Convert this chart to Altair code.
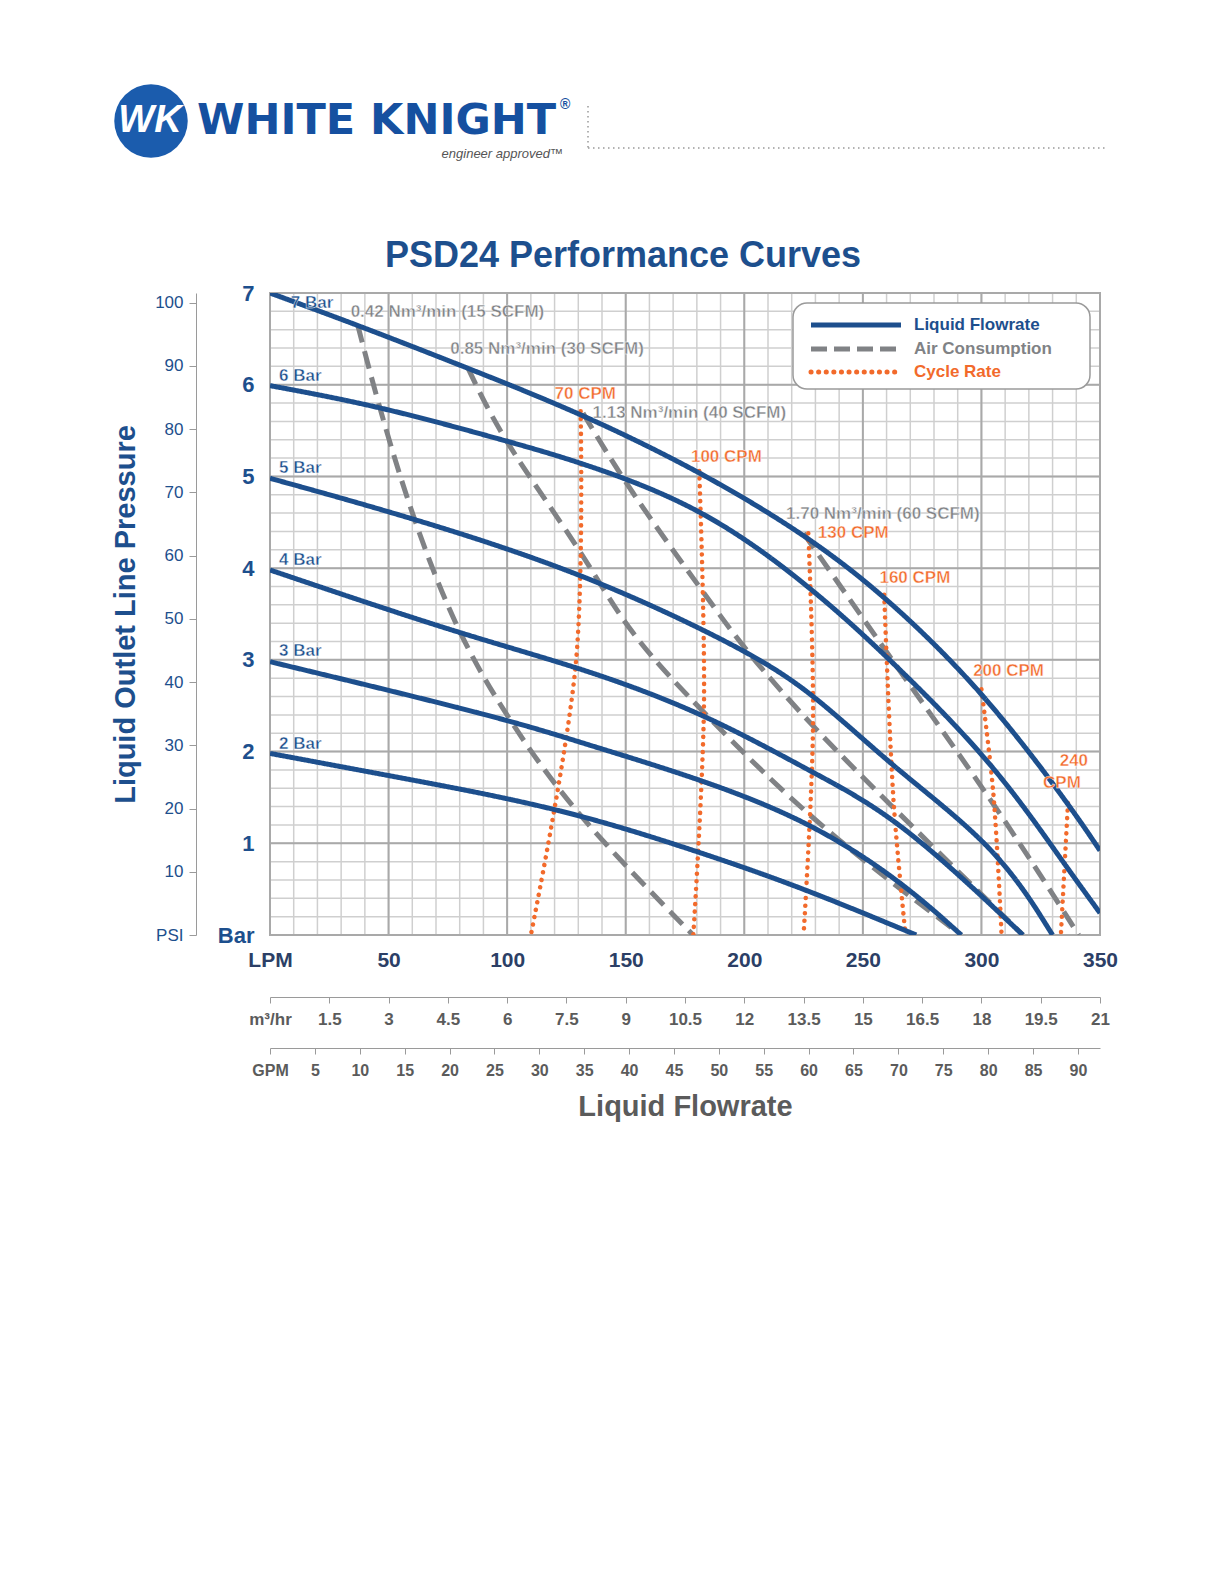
import altair as alt
import pandas as pd

BLUE = "#1d4f8d"
GRAY = "#808285"
ORANGE = "#f26a2b"

# liquid flowrate curves: (LPM, Bar)
bar7 = [(0, 7.0), (37, 6.65), (83.5, 6.18), (131, 5.69), (181, 5.06), (225, 4.38), (259, 3.71), (300, 2.68), (336.5, 1.44), (350, 0.92)]
bar6 = [(0, 5.99), (45.5, 5.77), (98, 5.40), (132, 5.15), (183, 4.66), (229, 3.78), (263, 2.97), (305, 1.88), (334.5, 0.79), (350, 0.24)]
bar5 = [(0, 4.98), (60, 4.55), (132, 3.95), (199.5, 3.13), (229, 2.64), (263, 1.82), (307, 0.95), (330, 0.0)]
bar4 = [(0, 3.98), (79, 3.29), (132, 2.91), (183, 2.42), (229, 1.77), (265, 1.28), (317.5, 0.0)]
bar3 = [(0, 2.98), (98, 2.37), (132, 2.09), (183, 1.69), (229, 1.22), (267, 0.57), (291.5, 0.0)]
bar2 = [(0, 1.98), (56, 1.71), (123.5, 1.38), (183, 0.89), (225, 0.51), (272.5, 0.0)]

# air consumption curves
air042 = [(37, 6.65), (45.5, 5.80), (60, 4.55), (79, 3.29), (100, 2.37), (128, 1.33), (178.4, 0.0)]
air085 = [(83.5, 6.18), (98, 5.40), (132, 4.17), (151, 3.29), (183, 2.42), (229, 1.22), (291.5, 0.0)]
air113 = [(132, 5.69), (151, 4.87), (183, 3.73), (199.5, 3.13), (229, 2.26), (265, 1.33), (317.5, 0.0)]
air170 = [(225, 4.38), (263, 2.97), (307, 1.38), (341, 0.0)]

# cycle rate curves
cpm70 = [(131, 5.71), (129, 2.97), (110, 0.0)]
cpm100 = [(181, 5.06), (183, 2.5), (178.5, 0.0)]
cpm130 = [(227, 4.38), (229, 2.3), (225, 0.0)]
cpm160 = [(259, 3.71), (263, 1.44), (268, 0.0)]
cpm200 = [(300, 2.68), (305, 1.55), (308.5, 0.0)]
cpm240 = [(336.5, 1.44), (333.5, 0.0)]

bar_labels = ["7 Bar", "6 Bar", "5 Bar", "4 Bar", "3 Bar", "2 Bar"]
bar_label_x = [8.8, 3.8, 3.8, 3.8, 3.8, 3.8]
bar_label_y = [6.89, 6.10, 5.09, 4.09, 3.10, 2.08]

air_labels = ["0.42 Nm³/min (15 SCFM)", "0.85 Nm³/min (30 SCFM)", "1.13 Nm³/min (40 SCFM)", "1.70 Nm³/min (60 SCFM)"]
air_label_x = [34, 76, 136, 217.6]
air_label_y = [6.79, 6.39, 5.69, 4.59]

cpm_labels = ["70 CPM", "100 CPM", "130 CPM", "160 CPM", "200 CPM", "240", "CPM"]
cpm_label_x = [120, 177.5, 231, 257, 296.5, 333, 326]
cpm_label_y = [5.90, 5.21, 4.38, 3.89, 2.88, 1.90, 1.66]

minor_x = list(range(0, 351, 10))
major_x = list(range(0, 351, 50))
minor_y = [i / 5 for i in range(0, 36)]
major_y = list(range(0, 8))

lpm_ticks = list(range(0, 351, 50))
m3_ticks = [i * 1.5 for i in range(0, 15)]
gpm_ticks = list(range(0, 91, 5))
psi_ticks = list(range(0, 101, 10))


def frame(curves, kind):
    rows = []
    for name, pts in curves.items():
        for i, (x, y) in enumerate(pts):
            rows.append({"curve": name, "i": i, "lpm": x, "bar": y, "kind": kind})
    return pd.DataFrame(rows)


W, H = 830, 642
xs = alt.Scale(domain=[0, 350], nice=False, zero=False)
ys = alt.Scale(domain=[0, 7], nice=False, zero=False)

# main axes: LPM / Bar
axis_layer = alt.Chart(pd.DataFrame({"lpm": [0, 350], "bar": [0, 7]})).mark_point(opacity=0).encode(
    x=alt.X("lpm:Q", scale=xs, axis=alt.Axis(values=lpm_ticks, orient="bottom", title=None, grid=False,
                                              labelExpr="datum.value == 0 ? 'LPM' : format(datum.value, 'd')",
                                              labelFontSize=21, labelFontWeight="bold", labelColor="#2c3f66",
                                              labelPadding=14, tickSize=0, domain=False, labelFlush=False,
                                              labelFont="Liberation Sans")),
    y=alt.Y("bar:Q", scale=ys, axis=alt.Axis(values=major_y, orient="left", title=None, grid=False,
                                              labelExpr="datum.value == 0 ? 'Bar' : format(datum.value, 'd')",
                                              labelFontSize=22, labelFontWeight="bold", labelColor=BLUE,
                                              labelPadding=16, tickSize=0, domain=False, labelFlush=False,
                                              labelFont="Liberation Sans")),
)

grid_minor_v = alt.Chart(pd.DataFrame({"lpm": minor_x})).mark_rule(color="#cfcfcf", strokeWidth=1.5).encode(
    x=alt.X("lpm:Q", scale=xs))
grid_minor_h = alt.Chart(pd.DataFrame({"bar": minor_y})).mark_rule(color="#cfcfcf", strokeWidth=1.5).encode(
    y=alt.Y("bar:Q", scale=ys))
grid_major_v = alt.Chart(pd.DataFrame({"lpm": major_x})).mark_rule(color="#a9a9a9", strokeWidth=2).encode(
    x=alt.X("lpm:Q", scale=xs))
grid_major_h = alt.Chart(pd.DataFrame({"bar": major_y})).mark_rule(color="#a9a9a9", strokeWidth=2).encode(
    y=alt.Y("bar:Q", scale=ys))


def lines(df, color, width, dash, cap, interp):
    return alt.Chart(df).mark_line(color=color, strokeWidth=width, strokeDash=dash, clip=True,
                                   strokeCap=cap, interpolate=interp).encode(
        x=alt.X("lpm:Q", scale=xs),
        y=alt.Y("bar:Q", scale=ys),
        detail="curve:N",
        order="i:Q",
    )


blue = lines(frame({"7": bar7, "6": bar6, "5": bar5, "4": bar4, "3": bar3, "2": bar2}, "liquid"),
             BLUE, 5, [1, 0], "butt", "basis")
gray = lines(frame({"a": air042, "b": air085, "c": air113, "d": air170}, "air"),
             GRAY, 5, [18, 9], "butt", "basis")
orange = lines(frame({"70": cpm70, "100": cpm100, "130": cpm130, "160": cpm160, "200": cpm200, "240": cpm240}, "cpm"),
               ORANGE, 4.5, [0.1, 7.5], "round", "catmull-rom")


def labels(texts, xv, yv, color, align="left"):
    df = pd.DataFrame({"t": texts, "lpm": xv, "bar": yv})
    return alt.Chart(df).mark_text(color=color, fontSize=17, fontWeight="bold", align=align,
                                   font="Liberation Sans", stroke="white", strokeWidth=0.4).encode(
        x=alt.X("lpm:Q", scale=xs), y=alt.Y("bar:Q", scale=ys), text="t:N")


bar_txt = labels(bar_labels, bar_label_x, bar_label_y, BLUE)
air_txt = labels(air_labels, air_label_x, air_label_y, GRAY)
cpm_txt = labels(cpm_labels, cpm_label_x, cpm_label_y, ORANGE)

# legend box
legend_bg = alt.Chart(pd.DataFrame({"k": [0]})).mark_rect(
    fill="white", stroke="#9a9a9a", strokeWidth=1.5, cornerRadius=14).encode(
    x=alt.value(523), x2=alt.value(820), y=alt.value(10), y2=alt.value(96))
leg_names = ["Liquid Flowrate", "Air Consumption", "Cycle Rate"]
leg_colors = [BLUE, GRAY, ORANGE]
leg_dash = [[1, 0], [16, 7], [0.1, 7.5]]
leg_caps = ["butt", "butt", "round"]
leg_y = [32, 56, 79]
legend_parts = [legend_bg]
for name, col, dash, cap, yy in zip(leg_names, leg_colors, leg_dash, leg_caps, leg_y):
    legend_parts.append(alt.Chart(pd.DataFrame({"k": [0]})).mark_rule(
        color=col, strokeWidth=5, strokeDash=dash, strokeCap=cap).encode(
        x=alt.value(541), x2=alt.value(631), y=alt.value(yy)))
    legend_parts.append(alt.Chart(pd.DataFrame({"t": [name]})).mark_text(
        color=col, fontSize=17, fontWeight="bold", align="left", font="Liberation Sans").encode(
        x=alt.value(644), y=alt.value(yy), text="t:N"))

# title and logo
deco = [
    alt.Chart(pd.DataFrame({"t": ["PSD24 Performance Curves"]})).mark_text(
        color=BLUE, fontSize=36, fontWeight="bold", font="Liberation Sans").encode(
        x=alt.value(353), y=alt.value(-37), text="t:N"),
    alt.Chart(pd.DataFrame({"k": [0]})).mark_circle(color="#1b5cad", opacity=1, size=5400).encode(
        x=alt.value(-119), y=alt.value(-172)),
    alt.Chart(pd.DataFrame({"t": ["WK"]})).mark_text(
        color="white", fontSize=38, fontWeight="bold", fontStyle="italic", font="Liberation Sans").encode(
        x=alt.value(-120), y=alt.value(-172), text="t:N"),
    alt.Chart(pd.DataFrame({"t": ["WHITE KNIGHT"]})).mark_text(
        color="#1550a0", fontSize=43, fontWeight="bold", align="left", font="DejaVu Sans").encode(
        x=alt.value(-73), y=alt.value(-172), text="t:N"),
    alt.Chart(pd.DataFrame({"t": ["®"]})).mark_text(
        color="#1550a0", fontSize=14, fontWeight="bold", align="left").encode(
        x=alt.value(290), y=alt.value(-188), text="t:N"),
    alt.Chart(pd.DataFrame({"t": ["engineer approved™"]})).mark_text(
        color="#555555", fontSize=13, fontStyle="italic", align="right").encode(
        x=alt.value(293), y=alt.value(-139), text="t:N"),
    alt.Chart(pd.DataFrame({"k": [0]})).mark_rule(color="#999999", strokeDash=[1.5, 3.5], strokeWidth=1.5).encode(
        x=alt.value(318), x2=alt.value(835), y=alt.value(-145)),
    alt.Chart(pd.DataFrame({"k": [0]})).mark_rule(color="#999999", strokeDash=[1.5, 3.5], strokeWidth=1.5).encode(
        x=alt.value(318), y=alt.value(-187), y2=alt.value(-145)),
]

main = alt.layer(axis_layer, grid_minor_v, grid_minor_h, grid_major_v, grid_major_h, gray, orange, blue,
                 bar_txt, air_txt, cpm_txt, *legend_parts, *deco)

psi = alt.Chart(pd.DataFrame({"psi": [0, 101.5]})).mark_point(opacity=0).encode(
    y=alt.Y("psi:Q", scale=alt.Scale(domain=[0, 7 * 14.5038], nice=False, zero=False),
            axis=alt.Axis(values=psi_ticks, orient="left", offset=74, grid=False,
                          title="Liquid Outlet Line Pressure", titleFontSize=29, titleColor=BLUE,
                          titleFont="Liberation Sans", titleFontWeight="bold", titlePadding=14,
                          labelExpr="datum.value == 0 ? 'PSI' : datum.label", labelFlush=False,
                          labelFontSize=17, labelColor=BLUE, labelFont="Liberation Sans",
                          domainColor="#9a9a9a", tickColor="#9a9a9a", tickSize=7, labelPadding=6)))

m3 = alt.Chart(pd.DataFrame({"m3": [0, 21]})).mark_point(opacity=0).encode(
    x=alt.X("m3:Q", scale=alt.Scale(domain=[0, 21], nice=False, zero=False),
            axis=alt.Axis(values=m3_ticks, orient="bottom", offset=62, grid=False, title=None,
                          labelExpr="datum.value == 0 ? 'm³/hr' : format(datum.value, '.1~f')",
                          labelFontSize=17, labelFontWeight="bold", labelColor="#5b5b5b", labelFlush=False,
                          labelFont="Liberation Sans", domainColor="#9a9a9a", tickColor="#9a9a9a",
                          tickSize=6, labelPadding=8, labelOverlap=False)))

gpm = alt.Chart(pd.DataFrame({"gpm": [0, 92.46]})).mark_point(opacity=0).encode(
    x=alt.X("gpm:Q", scale=alt.Scale(domain=[0, 350 / 3.78541], nice=False, zero=False),
            axis=alt.Axis(values=gpm_ticks, orient="bottom", offset=113, grid=False,
                          title="Liquid Flowrate", titleFontSize=29, titleColor="#5b5b5b",
                          titleFont="Liberation Sans", titleFontWeight="bold", titlePadding=14,
                          labelExpr="datum.value == 0 ? 'GPM' : datum.label", labelFlush=False,
                          labelFontSize=16, labelFontWeight="bold", labelColor="#5b5b5b",
                          labelFont="Liberation Sans", domainColor="#9a9a9a", tickColor="#9a9a9a",
                          tickSize=6, labelPadding=8, labelOverlap=False)))

chart = alt.layer(main, psi, m3, gpm).resolve_scale(x="independent", y="independent").properties(
    width=W, height=H, padding={"left": 103, "top": 76, "right": 5, "bottom": 5},
).configure_view(stroke="#a9a9a9", strokeWidth=2)

chart.save("out.html", embed_options={"renderer": "svg", "actions": False})
